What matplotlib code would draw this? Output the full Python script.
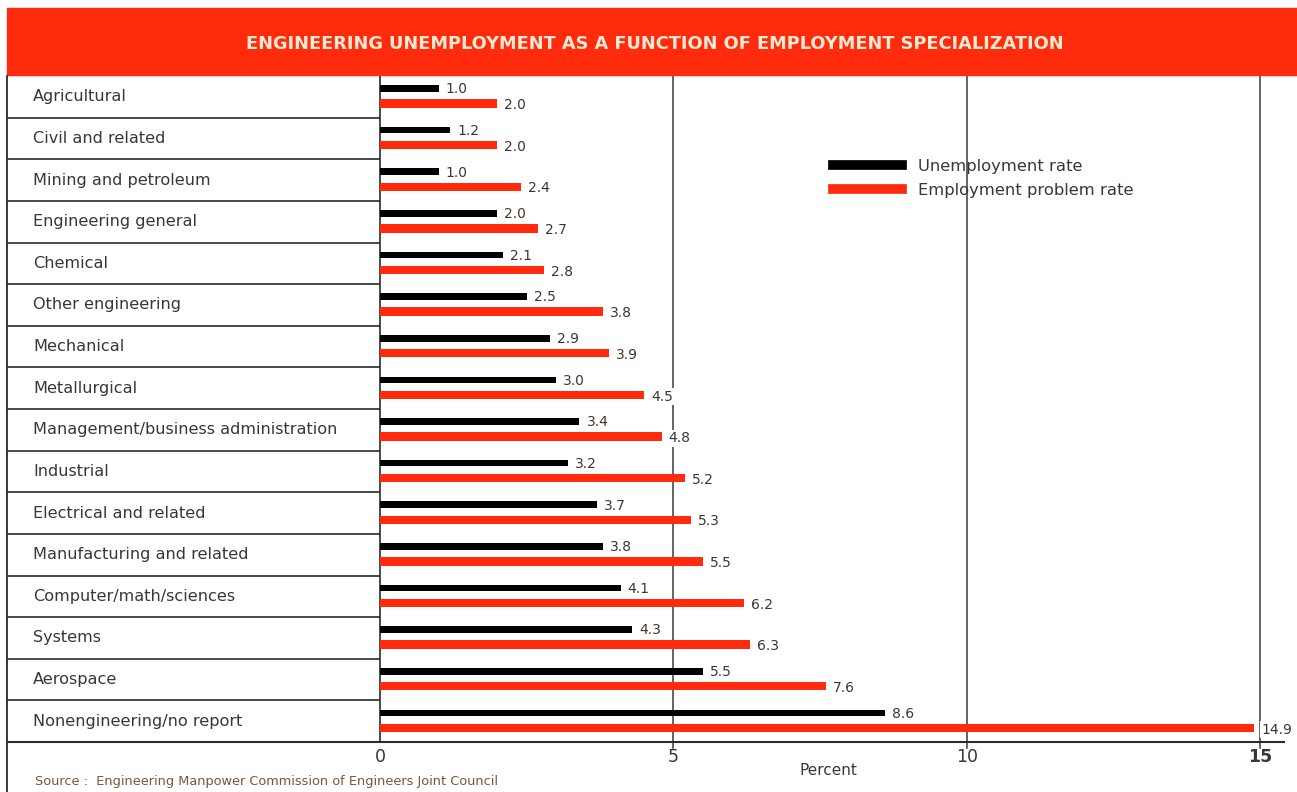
import numpy as np
import matplotlib.pyplot as plt
from matplotlib.lines import Line2D

categories = ['Agricultural', 'Civil and related', 'Mining and petroleum',
              'Engineering general', 'Chemical', 'Other engineering',
              'Mechanical', 'Metallurgical', 'Management/business administration',
              'Industrial', 'Electrical and related', 'Manufacturing and related',
              'Computer/math/sciences', 'Systems', 'Aerospace',
              'Nonengineering/no report']
unemployment = [1.0, 1.2, 1.0, 2.0, 2.1, 2.5, 2.9, 3.0, 3.4, 3.2, 3.7, 3.8, 4.1, 4.3, 5.5, 8.6]
problem = [2.0, 2.0, 2.4, 2.7, 2.8, 3.8, 3.9, 4.5, 4.8, 5.2, 5.3, 5.5, 6.2, 6.3, 7.6, 14.9]
ticks = [0, 5, 10, 15]

RED = '#ff2b0c'
TXT = '#3d3630'
W, H = 1297, 792

fig = plt.figure(figsize=(W / 100, H / 100), dpi=100)

# red title band
fig.patches.append(plt.Rectangle((7 / W, 1 - 75 / H), 1, 67 / H,
                                 transform=fig.transFigure, color=RED, zorder=0))
fig.text(655 / W, 1 - 44 / H,
         'ENGINEERING UNEMPLOYMENT AS A FUNCTION OF EMPLOYMENT SPECIALIZATION',
         ha='center', va='center', color='#f8ead2', fontsize=12.8, fontweight='bold')

# main axes: pixels 7..1290 horizontally, 76..742 vertically
ppu = 58.67
x0 = 380
ax = fig.add_axes([7 / W, 50 / H, (1290 - 7) / W, (742 - 76) / H])
xl, xr = (7 - x0) / ppu, (1290 - x0) / ppu
n = len(categories)
ax.set_xlim(xl, xr)
ax.set_ylim(n - 0.5, -0.5)
ax.axis('off')

y = np.arange(n)

# table on the left
ax.hlines(np.arange(0.5, n - 0.5), xl, 0, color='#2a2a2a', lw=1.2)
ax.vlines(0, -0.5, n - 0.5, color='#2a2a2a', lw=1.2)
ax.hlines(n - 0.5, xl, (1285 - x0) / ppu, color='#2a2a2a', lw=1.5, clip_on=False)
fig.add_artist(Line2D([7 / W, 7 / W], [0, 1 - 76 / H], color='#2a2a2a', lw=1.3))
for i, c in enumerate(categories):
    ax.text((33 - x0) / ppu, i, c, va='center', ha='left', fontsize=11.6, color=TXT)

# gridlines
for t in ticks[1:]:
    ax.plot([t, t], [-0.5, n - 0.35], color='#3a3a3a', lw=1.1, clip_on=False, zorder=1)

# bars
ax.barh(y - 0.2, unemployment, height=0.16, color='black', zorder=2)
ax.barh(y + 0.16, problem, height=0.2, color=RED, zorder=2)
for i in range(n):
    ax.text(unemployment[i] + 0.12, y[i] - 0.18, f'{unemployment[i]:.1f}', va='center',
            fontsize=10, color=TXT, zorder=3,
            bbox=dict(facecolor='white', edgecolor='none', pad=1))
    ax.text(problem[i] + 0.12, y[i] + 0.2, f'{problem[i]:.1f}', va='center',
            fontsize=10, color=TXT, zorder=3,
            bbox=dict(facecolor='white', edgecolor='none', pad=1))

# tick labels
for t in ticks:
    ax.text(t, n - 0.5 + 15 / 41.6, str(t), ha='center', va='center', fontsize=12.5,
            color=TXT, fontweight='bold' if t == 15 else 'normal', clip_on=False)
ax.text(7.65, n - 0.5 + 28 / 41.6, 'Percent', ha='center', va='center', fontsize=11,
        color=TXT, clip_on=False)

fig.text(35 / W, 1 - 781 / H, 'Source :  Engineering Manpower Commission of Engineers Joint Council',
         fontsize=9.3, color='#7a5636', va='center')

# legend
handles = [Line2D([], [], color='black', lw=7), Line2D([], [], color=RED, lw=7)]
fig.legend(handles, ['Unemployment rate', 'Employment problem rate'],
           loc='upper left', bbox_to_anchor=(818 / W, 1 - 144 / H), frameon=False,
           fontsize=11.8, handlelength=4.2, handletextpad=1.0, labelspacing=0.55,
           labelcolor=TXT)

fig.savefig('out.png', dpi=100)
